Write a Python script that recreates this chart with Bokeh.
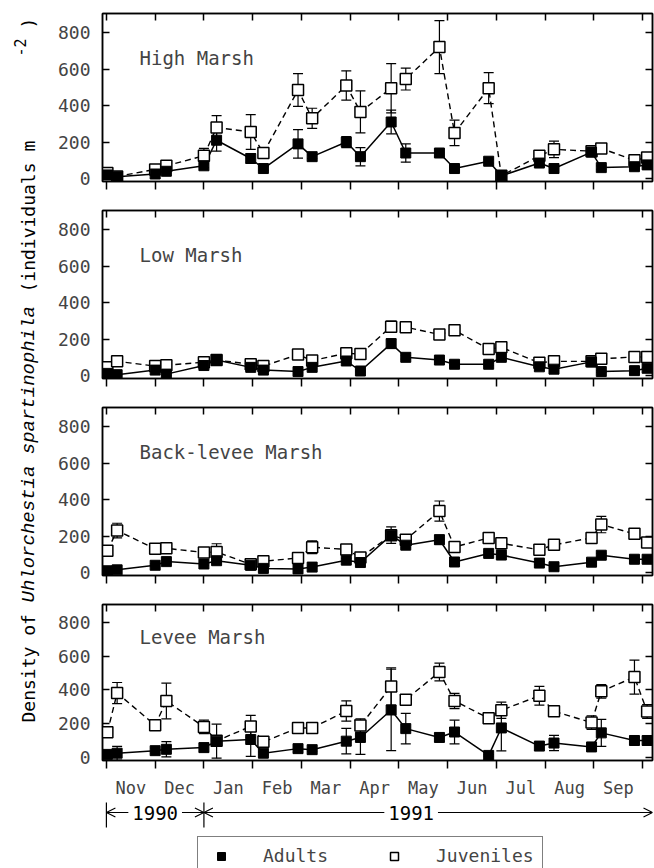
import math
from bokeh.plotting import figure
from bokeh.layouts import column, row
from bokeh.models import (Range1d, FixedTicker, LinearAxis, Whisker, TeeHead, ColumnDataSource,
                          Label, Legend, LegendItem, Arrow, OpenHead, CustomJSTickFormatter)
from bokeh.core.properties import value
from bokeh.embed import file_html
from bokeh.resources import INLINE

# ---------------- data ----------------
months = ["Nov", "Dec", "Jan", "Feb", "Mar", "Apr", "May", "Jun", "Jul", "Aug", "Sep"]
month_edges = list(range(12))          # 0 = 1 Nov 1990 ... 11 = 1 Oct 1991
y_ticks = [0, 200, 400, 600, 800]

# sampling dates, in months after 1 Nov 1990
sample_month = [0.02, 0.22, 1.0, 1.23, 2.0, 2.26, 2.96, 3.22, 3.93, 4.22, 4.92, 5.21,
                5.84, 6.14, 6.83, 7.14, 7.84, 8.1, 8.88, 9.18, 9.95, 10.15, 10.83, 11.09]

sites = ["High Marsh", "Low Marsh", "Back-levee Marsh", "Levee Marsh"]

hm_adult = [20, 10, 25, 40, 70, 210, 110, 55, 190, 120, 200, 120, 310, 140, 140, 55, 95, 15, 85, 55, 145, 60, 65, 75]
hm_adult_se = [5, 5, 5, 8, 10, 60, 25, 10, 78, 10, 30, 50, 65, 50, 20, 8, 10, 5, 20, 10, 20, 10, 10, 10]
hm_juv = [30, 12, 50, 70, 125, 280, 255, 140, 485, 330, 510, 365, 495, 545, 720, 250, 495, 15, 125, 160, 150, 165, 100, 115]
hm_juv_se = [5, 5, 10, 10, 40, 65, 95, 20, 90, 55, 80, 115, 135, 60, 145, 70, 85, 5, 25, 45, 20, 15, 15, 15]

lm_adult = [12, 5, 30, 8, 55, 85, 45, 30, 22, 45, 80, 25, 175, 100, 85, 62, 62, 100, 48, 35, 75, 22, 27, 40]
lm_adult_se = [5, 5, 5, 5, 8, 10, 8, 5, 5, 8, 10, 5, 25, 10, 8, 8, 8, 15, 8, 5, 8, 5, 5, 5]
lm_juv = [45, 78, 52, 57, 73, 85, 62, 52, 115, 82, 122, 118, 268, 265, 225, 248, 145, 155, 70, 78, 78, 92, 102, 102]
lm_juv_se = [8, 8, 8, 8, 8, 8, 8, 8, 20, 10, 12, 10, 30, 25, 12, 20, 12, 15, 10, 10, 8, 10, 10, 10]

bl_adult = [10, 15, 40, 60, 47, 65, 40, 23, 20, 30, 68, 55, 205, 150, 180, 58, 105, 96, 52, 32, 57, 95, 73, 73]
bl_adult_se = [5, 5, 8, 8, 8, 10, 8, 5, 5, 5, 10, 8, 45, 15, 25, 8, 10, 10, 8, 5, 8, 10, 8, 8]
bl_juv = [120, 230, 130, 133, 110, 113, 45, 62, 80, 139, 127, 82, 205, 180, 337, 140, 190, 160, 125, 152, 190, 263, 212, 165]
bl_juv_se = [20, 40, 12, 15, 12, 45, 8, 10, 10, 35, 20, 12, 20, 15, 55, 20, 25, 30, 15, 15, 12, 45, 20, 25]

lv_adult = [20, 27, 42, 50, 60, 98, 108, 27, 54, 48, 98, 120, 282, 172, 120, 152, 14, 176, 69, 87, 64, 147, 102, 102]
lv_adult_se = [5, 40, 15, 45, 25, 100, 100, 8, 20, 10, 75, 100, 240, 90, 25, 70, 5, 135, 25, 45, 10, 80, 25, 25]
lv_juv = [150, 382, 192, 335, 182, 100, 185, 94, 176, 176, 276, 190, 420, 343, 506, 335, 233, 280, 366, 274, 208, 392, 476, 273]
lv_juv_se = [30, 62, 15, 105, 40, 10, 65, 20, 25, 25, 60, 40, 110, 15, 52, 45, 25, 48, 55, 25, 40, 40, 100, 40]

years = ["1990", "1991"]
year_start = [0, 2]
year_end = [2, 11.2]
year_label_x = [1.0, 6.25]

# ---------------- styling ----------------
FONT = "DejaVu Sans Mono"
ITAL = "Liberation Mono"
LW = 1.5
xr = Range1d(-0.08, 11.2)

x_label_ticker = FixedTicker(ticks=[i + 0.5 for i in range(len(months))], minor_ticks=month_edges)
x_plain_ticker = FixedTicker(ticks=[], minor_ticks=month_edges)
y_label_ticker = FixedTicker(ticks=y_ticks, minor_ticks=[])
y_plain_ticker = FixedTicker(ticks=[], minor_ticks=y_ticks)
month_fmt = CustomJSTickFormatter(args=dict(months=months),
                                  code="return months[Math.floor(tick)];")


def panel(name, adult, adult_se, juv, juv_se, bottom=False):
    p = figure(width=604, height=209 if bottom else 197, x_range=xr, y_range=Range1d(-16, 904),
               x_axis_type=None, y_axis_type=None, output_backend="svg", toolbar_location=None,
               min_border_left=52, min_border_right=2, min_border_top=13,
               min_border_bottom=28 if bottom else 16,
               outline_line_color="black", outline_line_width=LW)
    p.xgrid.visible = False
    p.ygrid.visible = False

    left = LinearAxis(ticker=y_label_ticker, major_tick_in=7, major_tick_out=0,
                      minor_tick_in=0, minor_tick_out=0,
                      major_label_standoff=12, major_label_text_font=FONT,
                      major_label_text_font_size="18px", axis_line_width=LW,
                      major_tick_line_width=LW)
    right = LinearAxis(ticker=y_plain_ticker, major_tick_in=0, major_tick_out=0,
                       minor_tick_in=7, minor_tick_out=0, major_label_standoff=0,
                       axis_line_width=LW, minor_tick_line_width=LW)
    above = LinearAxis(ticker=x_plain_ticker, major_tick_in=0, major_tick_out=0,
                       minor_tick_in=7, minor_tick_out=0, major_label_standoff=0,
                       axis_line_width=LW, minor_tick_line_width=LW)
    if bottom:
        below = LinearAxis(ticker=x_label_ticker, major_tick_in=0, major_tick_out=0,
                           minor_tick_in=0, minor_tick_out=8, formatter=month_fmt,
                           major_label_standoff=9, major_label_text_font=FONT,
                           major_label_text_font_size="17px",
                           axis_line_width=LW, minor_tick_line_width=LW)
    else:
        below = LinearAxis(ticker=x_plain_ticker, major_tick_in=0, major_tick_out=0,
                           minor_tick_in=0, minor_tick_out=8, major_label_standoff=0,
                           axis_line_width=LW, minor_tick_line_width=LW)
    p.add_layout(left, "left")
    p.add_layout(right, "right")
    p.add_layout(above, "above")
    p.add_layout(below, "below")

    src = ColumnDataSource(dict(
        x=sample_month, a=adult, j=juv,
        a_lo=[v - e for v, e in zip(adult, adult_se)], a_hi=[v + e for v, e in zip(adult, adult_se)],
        j_lo=[v - e for v, e in zip(juv, juv_se)], j_hi=[v + e for v, e in zip(juv, juv_se)],
    ))
    for lo, hi in (("j_lo", "j_hi"), ("a_lo", "a_hi")):
        p.add_layout(Whisker(source=src, base="x", lower=lo, upper=hi, dimension="height",
                             line_color="black", line_width=1.2,
                             lower_head=TeeHead(size=10, line_width=1.2, line_color="black"),
                             upper_head=TeeHead(size=10, line_width=1.2, line_color="black")))
    p.line("x", "j", source=src, line_color="black", line_width=1.4, line_dash="6 4")
    p.line("x", "a", source=src, line_color="black", line_width=1.5)
    p.scatter("x", "j", source=src, marker="square", size=11, fill_color="white",
              line_color="black", line_width=1.5)
    p.scatter("x", "a", source=src, marker="square", size=10, fill_color="black",
              line_color="black")
    p.add_layout(Label(x=37, y=124, x_units="screen", y_units="screen", text=name,
                       text_font=FONT, text_font_size="19px", text_baseline="alphabetic"))
    return p


p1 = panel(sites[0], hm_adult, hm_adult_se, hm_juv, hm_juv_se)
p2 = panel(sites[1], lm_adult, lm_adult_se, lm_juv, lm_juv_se)
p3 = panel(sites[2], bl_adult, bl_adult_se, bl_juv, bl_juv_se)
p4 = panel(sites[3], lv_adult, lv_adult_se, lv_juv, lv_juv_se, bottom=True)

# ---------------- year annotation + legend ----------------
ann = figure(width=604, height=68, x_range=xr, y_range=Range1d(0, 68), x_axis_type=None,
             y_axis_type=None, output_backend="svg", toolbar_location=None,
             min_border_left=52, min_border_right=2, min_border_top=0, min_border_bottom=0,
             outline_line_color=None)
ann.xgrid.visible = False
ann.ygrid.visible = False
YL = 56
half_gap = 0.55
bars = sorted(set(year_start + year_end[:-1]))
ann.segment(x0=bars, y0=[41] * len(bars), x1=bars, y1=[66] * len(bars), line_color="black", line_width=1.2)
for lab, s, e, cx in zip(years, year_start, year_end, year_label_x):
    ann.add_layout(Arrow(end=OpenHead(size=9, line_width=1.2), x_start=cx - half_gap, y_start=YL,
                         x_end=s, y_end=YL, line_width=1.2))
    ann.add_layout(Arrow(end=OpenHead(size=9, line_width=1.2), x_start=cx + half_gap, y_start=YL,
                         x_end=e, y_end=YL, line_width=1.2))
ann.text(x=year_label_x, y=[YL] * len(years), text=years, text_align="center", text_baseline="middle",
         text_font=value(FONT), text_font_size="19px")

# legend-only renderers (NaN point, never drawn in the frame)
nan = float("nan")
ra = ann.scatter(x=[nan], y=[nan], marker="square", size=10, fill_color="black", line_color="black")
rj = ann.scatter(x=[nan], y=[nan], marker="square", size=11, fill_color="white", line_color="black",
                 line_width=1.5)
legend = Legend(items=[LegendItem(label="Adults", renderers=[ra], index=0),
                       LegendItem(label="Juveniles", renderers=[rj], index=0)],
                orientation="horizontal", location=(95, -7), glyph_width=30, glyph_height=20,
                label_standoff=27, spacing=51, padding=8, margin=0,
                border_line_color="black", border_line_width=1.5,
                label_text_font=FONT, label_text_font_size="18px", background_fill_alpha=1)
ann.add_layout(legend)

# ---------------- y title ----------------
t = figure(width=50, height=868, x_range=Range1d(0, 50), y_range=Range1d(0, 868), x_axis_type=None,
           y_axis_type=None, output_backend="svg", toolbar_location=None, min_border=0,
           outline_line_color=None)
t.xgrid.visible = False
t.ygrid.visible = False
A = math.pi / 2
t.text(x=[28], y=[146], text=["Density of"], angle=A, text_align="left", text_baseline="middle",
       text_font=value(FONT), text_font_size="18px")
t.text(x=[28], y=[266], text=["Uhlorchestia spartinophila"], angle=A, text_align="left",
       text_baseline="middle", text_font=value(ITAL), text_font_style="italic", text_font_size="19px")
t.text(x=[28], y=[576], text=["(individuals m"], angle=A, text_align="left", text_baseline="middle",
       text_font=value(FONT), text_font_size="18px")
t.text(x=[19], y=[812], text=["-2"], angle=A, text_align="left", text_baseline="middle",
       text_font=value(FONT), text_font_size="15px")
t.text(x=[28], y=[840], text=[")"], angle=A, text_align="left", text_baseline="middle",
       text_font=value(FONT), text_font_size="18px")

layout = row(t, column(p1, p2, p3, p4, ann))
open("out.html", "w").write(file_html(layout, INLINE))
